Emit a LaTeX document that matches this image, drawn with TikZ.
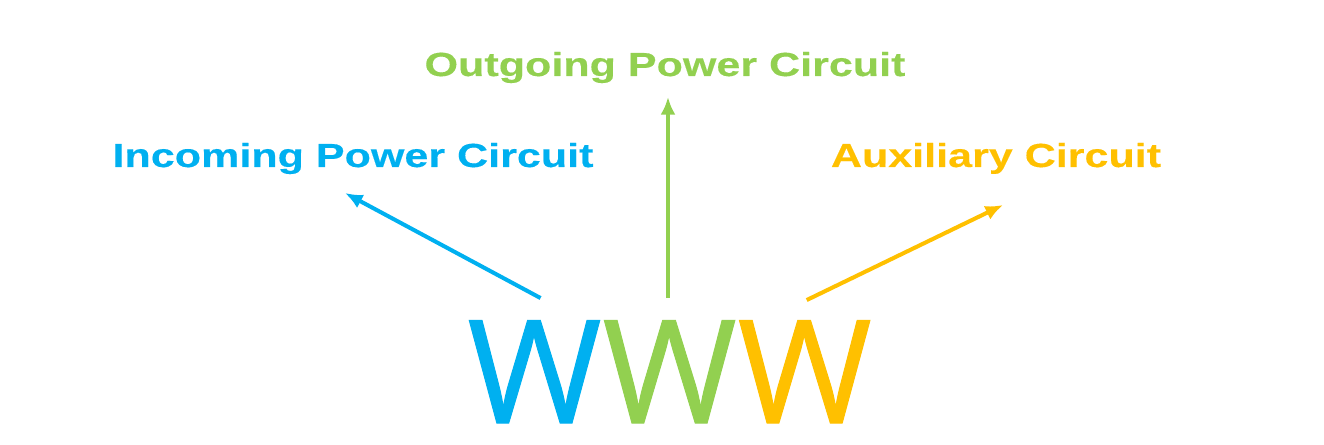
\documentclass[tikz,border=0pt]{standalone}
\usepackage{fontspec}
\usepackage{tikz}
\usetikzlibrary{positioning,arrows.meta}
\newfontfamily\circfont[FakeStretch=1.29,FakeBold=0.3]{Liberation Sans}
\newfontfamily\wwwfont[FakeStretch=1.01,FakeBold=0.7]{Open Sans}
\definecolor{inblue}{HTML}{00B0F0}
\definecolor{outgreen}{HTML}{92D050}
\definecolor{auxyellow}{HTML}{FFC000}

\begin{document}
\begin{tikzpicture}[
x=0.02cm, y=-0.02cm,
letter/.style={font=\wwwfont\fontsize{81.8}{90}\selectfont, inner sep=0pt, anchor=base west},
circtext/.style={font=\circfont\bfseries\fontsize{19}{23}\selectfont, inner sep=0pt, anchor=base},
arr/.style={-{Latex[length=10pt,width=8.5pt]}, line width=2.3pt}
]
\useasboundingbox (0,0) rectangle (1324,445);
\node[letter, text=inblue] (wB) at (467,423) {W};
\node[letter, text=outgreen] (wG) at (wB.base east) {W};
\node[letter, text=auxyellow] (wY) at (wG.base east) {W};
\node[circtext, text=inblue] (inc) at (353,167) {Incoming Power Circuit};
\node[circtext, text=outgreen] (out) at (665,76) {Outgoing Power Circuit};
\node[circtext, text=auxyellow] (aux) at (996,167) {Auxiliary Circuit};
\coordinate (incTip) at (345,193);
\coordinate (outTip) at (668,97);
\coordinate (auxTip) at (1003,205);
\draw[arr, inblue] ([shift={(6,-22)}]wB.north) -- (incTip);
\draw[arr, outgreen] ([yshift=22*0.02cm]wG.north -| outTip) -- (outTip);
\draw[arr, auxyellow] ([shift={(2,-20)}]wY.north) -- (auxTip);
\end{tikzpicture}
\end{document}
